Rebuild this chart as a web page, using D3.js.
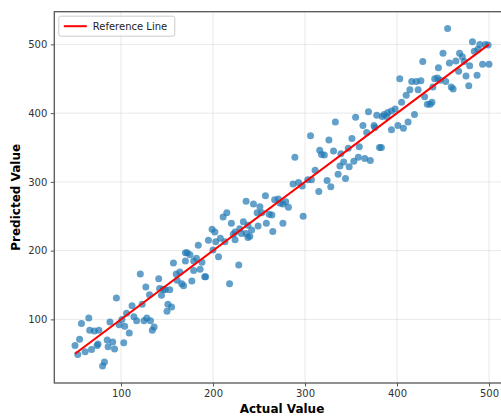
<!DOCTYPE html>
<html>
<head>
<meta charset="utf-8">
<script src="https://cdn.jsdelivr.net/npm/d3@7"></script>
<style>
  body { margin: 0; background: #fff; }
  svg { display: block; font-family: "DejaVu Sans", sans-serif; }
</style>
</head>
<body>
<div class="canvas"></div>
<script>
// actual vs predicted
const actual = [
  53, 50, 55, 57, 65, 66, 71, 76, 61, 68, 74, 75, 80, 82, 85, 86, 91, 93, 88, 95,
  98, 101, 104, 103, 106, 109, 112, 114, 117, 121, 123, 125, 127, 128, 131, 132, 134, 136, 141, 142,
  144, 146, 148, 150, 151, 153, 155, 157, 160, 161, 164, 166, 168, 170, 170, 172, 175, 177, 179, 179,
  182, 184, 186, 188, 191, 192, 195, 199, 202, 203, 208, 211, 215, 213, 220, 222, 224, 224, 229, 231,
  233, 236, 236, 238, 238, 200, 206, 228, 218, 240, 242, 244, 248, 249, 251, 253, 257, 258, 261, 264,
  265, 267, 271, 273, 276, 276, 279, 282, 287, 289, 293, 298, 297, 303, 307, 306, 311, 315, 316, 318,
  321, 324, 326, 328, 331, 333, 336, 338, 339, 342, 344, 347, 348, 351, 353, 355, 358, 359, 363, 365,
  367, 369, 371, 375, 376, 378, 381, 383, 384, 386, 389, 390, 394, 394, 398, 401, 403, 405, 407, 410,
  412, 414, 416, 419, 421, 423, 426, 428, 430, 433, 436, 438, 439, 441, 444, 445, 447, 450, 453, 455,
  457, 459, 461, 464, 467, 468, 471, 473, 475, 478, 479, 482, 484, 487, 488, 490, 493, 496, 499, 500
];
const predicted = [
  49, 62, 71, 94, 102, 84, 83, 84, 53, 56, 62, 64, 32, 38, 70, 60, 67, 57, 96, 131,
  92, 100, 90, 66, 109, 80, 120, 104, 98, 166, 122, 98, 147, 102, 136, 98, 84, 89, 159, 145,
  135, 144, 143, 112, 122, 143, 118, 182, 166, 157, 169, 152, 149, 185, 197, 197, 194, 156, 171, 185,
  189, 208, 173, 183, 162, 162, 215, 231, 227, 213, 218, 249, 255, 213, 240, 224, 227, 216, 232, 225,
  242, 272, 225, 237, 219, 201, 191, 179, 152, 221, 230, 268, 255, 236, 264, 255, 280, 240, 253, 252,
  228, 274, 275, 269, 268, 240, 271, 263, 297, 336, 299, 250, 294, 303, 303, 367, 317, 286, 346, 340,
  339, 302, 361, 293, 345, 387, 311, 323, 341, 329, 305, 349, 322, 363, 330, 394, 336, 351, 382, 334,
  372, 402, 331, 382, 379, 397, 350, 350, 395, 398, 395, 401, 403, 376, 406, 382, 450, 416, 378, 426,
  387, 434, 446, 398, 446, 434, 447, 475, 424, 413, 413, 416, 438, 450, 451, 466, 448, 487, 446, 523,
  473, 438, 435, 476, 461, 487, 482, 475, 454, 440, 469, 504, 490, 455, 493, 500, 471, 500, 499, 471
];
const refLine = [50, 500];
const xTicks = [100, 200, 300, 400, 500];
const yTicks = [100, 200, 300, 400, 500];

const width = 501, height = 416;
const margin = {top: 11.7, left: 54.3, bottom: 33};
const plotRight = 509.7; // axes run a bit past the right edge of the picture

const svg = d3.select('.canvas')
  .append('svg')
    .attr('width', width)
    .attr('height', height);

// matplotlib style 5% padding
const xPad = (d3.max(actual) - d3.min(actual)) * 0.05;
const yPad = (d3.max(predicted) - d3.min(predicted)) * 0.05;

const x = d3.scaleLinear()
  .domain([d3.min(actual) - xPad, d3.max(actual) + xPad])
  .range([margin.left, plotRight]);

const y = d3.scaleLinear()
  .domain([d3.min(predicted) - yPad, d3.max(predicted) + yPad])
  .range([height - margin.bottom, margin.top]);

const bottom = height - margin.bottom;

// grid
const grid = svg.append('g').attr('stroke', '#b0b0b0').attr('stroke-opacity', 0.35).attr('stroke-width', 0.8);
grid.selectAll('.gx').data(xTicks).enter().append('line')
  .attr('x1', d => x(d)).attr('x2', d => x(d))
  .attr('y1', margin.top).attr('y2', bottom);
grid.selectAll('.gy').data(yTicks).enter().append('line')
  .attr('x1', margin.left).attr('x2', plotRight)
  .attr('y1', d => y(d)).attr('y2', d => y(d));

// points
const pts = actual.map((a, i) => ({a, p: predicted[i]}));
svg.append('g').selectAll('circle')
  .data(pts)
  .enter()
  .append('circle')
    .attr('cx', d => x(d.a))
    .attr('cy', d => y(d.p))
    .attr('r', 3.5)
    .attr('fill', '#1f77b4')
    .attr('fill-opacity', 0.7);

// reference line y = x
svg.append('line')
  .attr('x1', x(refLine[0])).attr('y1', y(refLine[0]))
  .attr('x2', x(refLine[1])).attr('y2', y(refLine[1]))
  .attr('stroke', 'red')
  .attr('stroke-width', 2);

// axes
const xAxis = svg.append('g')
  .attr('transform', `translate(0,${bottom})`)
  .call(d3.axisBottom(x).tickValues(xTicks).tickSize(3.5).tickPadding(3.5));
const yAxis = svg.append('g')
  .attr('transform', `translate(${margin.left},0)`)
  .call(d3.axisLeft(y).tickValues(yTicks).tickSize(3.5).tickPadding(3.5));

[xAxis, yAxis].forEach(ax => {
  ax.select('.domain').remove();
  ax.selectAll('line').attr('stroke', '#555');
  ax.selectAll('text').attr('fill', '#333').style('font-size', '10px').style('font-family', '"DejaVu Sans", sans-serif');
});

// frame
svg.append('rect')
  .attr('x', margin.left).attr('y', margin.top)
  .attr('width', plotRight - margin.left)
  .attr('height', bottom - margin.top)
  .attr('fill', 'none')
  .attr('stroke', '#555')
  .attr('stroke-width', 1.3);

// labels
svg.append('text')
  .attr('x', (margin.left + plotRight) / 2)
  .attr('y', 413)
  .attr('text-anchor', 'middle')
  .style('font-size', '12px')
  .style('font-weight', 'bold')
  .text('Actual Value');

svg.append('text')
  .attr('transform', `translate(20,${(margin.top + bottom) / 2}) rotate(-90)`)
  .attr('text-anchor', 'middle')
  .style('font-size', '12px')
  .style('font-weight', 'bold')
  .text('Predicted Value');

// legend
const lg = svg.append('g').attr('transform', `translate(${margin.left + 4.5},${margin.top + 4.5})`);
lg.append('rect')
  .attr('width', 116).attr('height', 20)
  .attr('rx', 2)
  .attr('fill', '#fff').attr('fill-opacity', 0.8)
  .attr('stroke', '#ccc');
lg.append('line')
  .attr('x1', 5).attr('x2', 28).attr('y1', 10).attr('y2', 10)
  .attr('stroke', 'red').attr('stroke-width', 2);
lg.append('text')
  .attr('x', 34).attr('y', 13.5)
  .style('font-size', '10px')
  .attr('fill', '#222')
  .text('Reference Line');
</script>
</body>
</html>
